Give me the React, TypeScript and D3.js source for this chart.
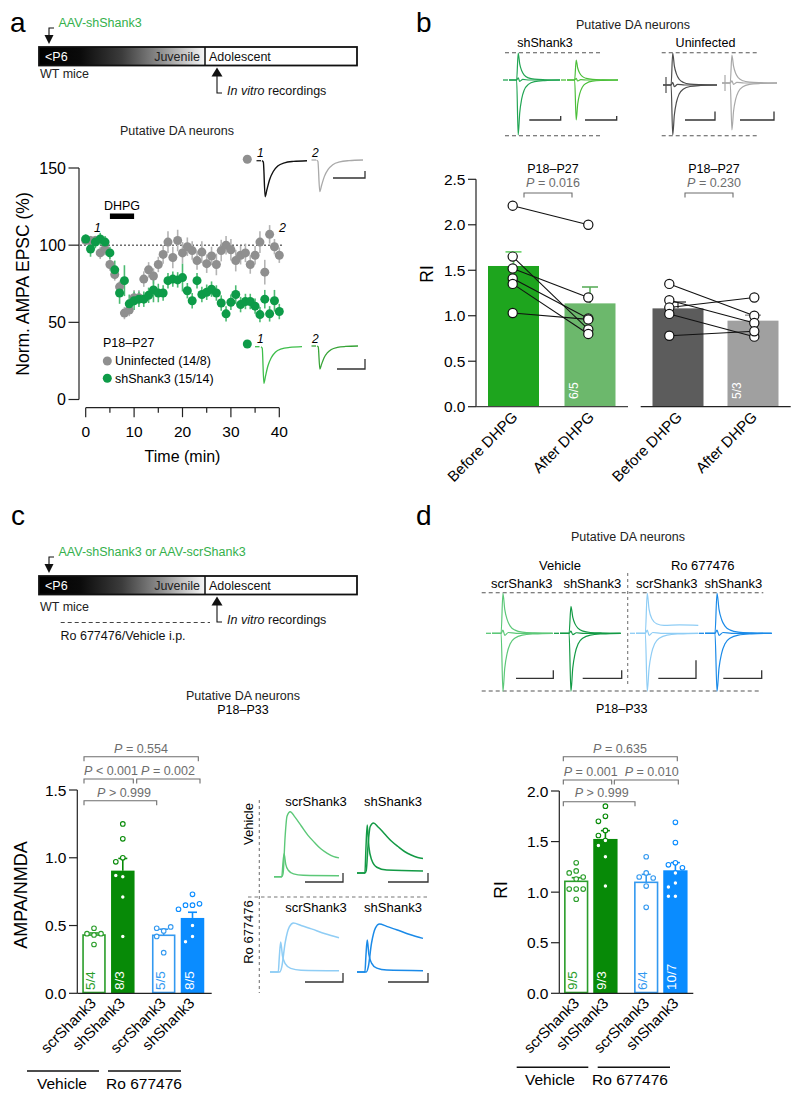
import React from "react";
import * as d3 from "d3";

const FONT = "'Liberation Sans', Arial, Helvetica, sans-serif";
type Pt = [number, number];

// ---------------- Panel a data ----------------
const timeMin = [0,1,2,3,4,5,6,7,8,9,10,11,12,13,14,15,16,17,18,19,20,21,22,23,24,25,26,27,28,29,30,31,32,33,34,35,36,37,38,39,40];
const uninfectedMean = [103,103,103,95,97.5,87.5,81,73,56,58,66,66,78,84,80,87.5,94,102,92,103,95,99,96.5,90,95.5,88,93,87.5,96.5,100,97,90,93.5,95,87.5,93.5,102,82.5,107,99,93.5];
const uninfectedSem = [3,3,3,4,4,4,4,4,4,4,5,5,5,5,5,5,6,7,7,7,7,6,6,6,7,6,6,7,7,6,7,7,6,6,6,6,7,8,6,5,5];
const shShank3Mean = [104,97.5,102,104,102,95,84,69,77,62,64,65,65,67.5,71,69,69,77,78,77.5,79,70.5,64,77,68,69.5,71.5,69,62.5,55.5,63,68,61.5,63.5,63.5,60.5,55,65,55.5,64,57];
const shShank3Sem = [3,5,4,4,4,4,6,7,10,6,6,5,5,5,8,6,5,5,5,5,9,5,5,5,5,5,5,5,5,5,5,6,5,5,5,5,5,6,5,7,5];
const yTicksA = [0, 50, 100, 150];
const xMajorA = [0, 10, 20, 30, 40];
const xMinorA = [5, 15, 25, 35];

// normalized trace shapes (time 0..1, amplitude)
const epscShape: Pt[] = [[0,0],[0.03,-0.04],[0.07,-1],[0.11,-0.8],[0.17,-0.52],[0.25,-0.3],[0.35,-0.15],[0.5,-0.06],[0.7,-0.02],[1,0]];
const riShape: Pt[] = [[0,0],[0.15,0],[0.18,1],[0.21,0.6],[0.25,0.34],[0.3,0.18],[0.38,0.08],[0.5,0.03],[0.7,0.01],[1,0]];
const riPlateauShape: Pt[] = [[0,0],[0.15,0],[0.18,1],[0.21,0.6],[0.26,0.35],[0.33,0.24],[0.45,0.2],[0.7,0.21],[1,0.2]];
const riZeroShape: Pt[] = [[0,0],[0.15,0],[0.18,0.08],[0.21,-0.05],[0.27,0.02],[0.4,0],[1,0]];
const nmdaVehShape: Pt[] = [[0,0],[0.12,0],[0.14,0.05],[0.17,0.6],[0.2,0.93],[0.25,1],[0.32,0.92],[0.42,0.78],[0.52,0.64],[0.62,0.53],[0.72,0.43],[0.82,0.36],[0.92,0.31],[1,0.29]];
const nmdaRoShape: Pt[] = [[0,0],[0.14,0],[0.17,0.1],[0.22,0.6],[0.28,0.92],[0.34,1],[0.45,0.95],[0.6,0.88],[0.8,0.78],[1,0.7]];
const ampaShape: Pt[] = [[0,0],[0.12,0],[0.135,0.5],[0.155,1],[0.18,0.55],[0.22,0.28],[0.3,0.12],[0.45,0.06],[1,0.04]];

// ---------------- Panel b data ----------------
const dhpgConds = ["Before DHPG", "After DHPG"];
const riShMean = [1.547, 1.136];
const riShSem = [0.155, 0.18];
const riUnMean = [1.081, 0.946];
const riUnSem = [0.07, 0.06];
const riShBefore = [2.21, 1.65, 1.52, 1.41, 1.35, 1.03];
const riShAfter = [2.0, 0.85, 1.2, 0.97, 0.8, 0.96];
const riUnBefore = [1.35, 1.17, 1.09, 1.02, 0.78];
const riUnAfter = [1.0, 0.92, 1.2, 0.77, 0.83];
const riShN = "6/5";
const riUnN = "5/3";
const yTicksB = [0, 0.5, 1, 1.5, 2, 2.5];

// ---------------- Panel c data ----------------
const groups = ["Vehicle", "Ro 677476"];
const conds = ["scrShank3", "shShank3"];
const amMean = [0.43, 0.905, 0.428, 0.556];
const amSem = [0.015, 0.09, 0.045, 0.042];
const amScrVeh = [0.48, 0.44, 0.44, 0.43, 0.36];
const amShVeh = [1.25, 1.14, 1.0, 0.97, 0.86, 0.87, 0.71, 0.42];
const amScrRo = [0.46, 0.48, 0.49, 0.42, 0.3];
const amShRo = [0.73, 0.65, 0.65, 0.66, 0.62, 0.5, 0.42, 0.38];
const amN = ["5/4", "8/3", "5/5", "8/5"];
const yTicksC = [0, 0.5, 1, 1.5];

// ---------------- Panel d data ----------------
const riMean = [1.107, 1.526, 1.097, 1.216];
const riSem = [0.036, 0.082, 0.079, 0.076];
const riScrVeh = [1.29, 1.21, 1.19, 1.15, 1.13, 1.03, 1.03, 1.03, 0.93];
const riShVeh = [1.85, 1.75, 1.7, 1.61, 1.56, 1.51, 1.46, 1.35, 1.06];
const riScrRo = [1.35, 1.19, 1.15, 1.14, 1.06, 0.85];
const riShRo = [1.69, 1.49, 1.29, 1.27, 1.24, 1.19, 1.09, 1.05, 0.96, 0.96];
const riN = ["9/5", "9/3", "6/4", "10/7"];
const yTicksD = [0, 0.5, 1, 1.5, 2];

// ---------------- styles ----------------
const GREEN_TXT = "#34b04c";
const P_GRAY = "#6d6d6d";
const barStroke = ["#2a9d2a", "#078a07", "#3399f0", "#0a8cff"];
const barFill = ["#ffffff", "#078a07", "#ffffff", "#0a8cff"];
const nColor = ["#2a9d2a", "#ffffff", "#3399f0", "#ffffff"];

function Trace({ shape, x0, x1, base, amp, color, sw = 1.2 }: { shape: Pt[]; x0: number; x1: number; base: number; amp: number; color: string; sw?: number }) {
  const x = d3.scaleLinear().domain([0, 1]).range([x0, x1]);
  const y = d3.scaleLinear().domain([0, 1]).range([base, base - amp]);
  const line = d3.line<Pt>().x((d) => x(d[0])).y((d) => y(d[1])).curve(d3.curveMonotoneX);
  return <path d={line(shape) || ""} fill="none" stroke={color} strokeWidth={sw} strokeLinejoin="round" />;
}

function ScaleBar({ x0, x1, y, h, color = "#333" }: { x0: number; x1: number; y: number; h: number; color?: string }) {
  return <path d={`M${x0},${y}H${x1}V${y - h}`} fill="none" stroke={color} strokeWidth={1.3} />;
}

function RiSweeps({ x0, x1, base, up, down, color, vArt = false, plateau = false }: { x0: number; x1: number; base: number; up: number; down: number; color: string; vArt?: boolean; plateau?: boolean }) {
  return (
    <g>
      <Trace shape={plateau ? riPlateauShape : riShape} x0={x0} x1={x1} base={base} amp={up} color={color} />
      <Trace shape={riShape} x0={x0} x1={x1} base={base} amp={-down} color={color} />
      <Trace shape={riZeroShape} x0={x0} x1={x1} base={base} amp={up} color={color} />
      {vArt ? (
        <line x1={x0 + 3} x2={x0 + 3} y1={base - 8} y2={base + 8} stroke={color} strokeWidth={1.2} />
      ) : (
        <line x1={x0 - 6} x2={x0 - 1} y1={base} y2={base} stroke={color} strokeWidth={1.3} />
      )}
    </g>
  );
}

function PText({ x, y, op, val, anchor = "middle" }: { x: number; y: number; op: string; val: string; anchor?: string }) {
  return (
    <text x={x} y={y} fontSize={12.5} fill={P_GRAY} textAnchor={anchor as any}>
      <tspan fontStyle="italic">P</tspan>
      {` ${op} ${val}`}
    </text>
  );
}

function Bracket({ x0, x1, y, drop = 4.5 }: { x0: number; x1: number; y: number; drop?: number }) {
  return <path d={`M${x0},${y + drop}V${y}H${x1}V${y + drop}`} fill="none" stroke={P_GRAY} strokeWidth={1.1} />;
}

function Timeline({ top, label, wtY, ro }: { top: number; label: string; wtY: number; ro?: boolean }) {
  const x0 = 39, x1 = 357, xd = 205, h = 18.5;
  const bottom = top + h;
  const gid = `grad${Math.round(top)}`;
  return (
    <g fontSize={12.5}>
      <defs>
        <linearGradient id={gid} x1="0" x2="1" y1="0" y2="0">
          <stop offset="0" stopColor="#000" />
          <stop offset="0.25" stopColor="#0b0b0b" />
          <stop offset="0.5" stopColor="#3c3c3c" />
          <stop offset="0.75" stopColor="#959595" />
          <stop offset="1" stopColor="#f6f6f6" />
        </linearGradient>
      </defs>
      <text x={58.5} y={top - 20} fill={GREEN_TXT}>{label}</text>
      <path d={`M54,${top - 19}H49V${top - 12}`} fill="none" stroke="#111" strokeWidth={1.1} />
      <path d={`M44.5,${top - 12}H53.5L49,${top - 3}Z`} fill="#111" />
      <rect x={x0} y={top} width={xd - x0} height={h} fill={`url(#${gid})`} />
      <rect x={xd} y={top} width={x1 - xd} height={h} fill="#fff" />
      <rect x={x0} y={top} width={x1 - x0} height={h} fill="none" stroke="#111" strokeWidth={1.8} />
      <line x1={xd} x2={xd} y1={top} y2={bottom} stroke="#111" strokeWidth={1.5} />
      <text x={45} y={top + 14} fill="#fff">{"<P6"}</text>
      <text x={xd - 5} y={top + 14} textAnchor="end" fill="#222">Juvenile</text>
      <text x={xd + 4} y={top + 14} fill="#111">Adolescent</text>
      <text x={40} y={wtY} fill="#222">WT mice</text>
      <path d={`M${xd + 12},${bottom + 2}L${xd + 17.5},${bottom + 11}H${xd + 6.5}Z`} fill="#111" />
      <path d={`M${xd + 12},${bottom + 10}V${bottom + 27.5}H${xd + 17}`} fill="none" stroke="#111" strokeWidth={1.1} />
      <text x={xd + 22} y={bottom + 29} fill="#111">
        <tspan fontStyle="italic">In vitro</tspan> recordings
      </text>
      {ro && (
        <g>
          <line x1={60.7} x2={210} y1={bottom + 28} y2={bottom + 28} stroke="#444" strokeWidth={1.1} strokeDasharray="4,3" />
          <text x={60.5} y={bottom + 45} fill="#111">Ro 677476/Vehicle i.p.</text>
        </g>
      )}
    </g>
  );
}

function dodge(values: number[], y: (v: number) => number, r: number): number[] {
  const placed: { x: number; y: number }[] = [];
  const cands = [0, -1, 1, -2, 2, -3, 3];
  const step = 2 * r + 2.4;
  return values.map((v) => {
    const py = y(v);
    for (const c of cands) {
      const px = c * step;
      if (placed.every((p) => Math.hypot(p.x - px, p.y - py) >= 2 * r + 1.5)) {
        placed.push({ x: px, y: py });
        return px;
      }
    }
    placed.push({ x: 0, y: py });
    return 0;
  });
}

function PanelA() {
  const x = d3.scaleLinear().domain([0, 40]).range([85.7, 279.3]);
  const y = d3.scaleLinear().domain([0, 150]).range([399.5, 168]);
  const axY = 407.7;
  return (
    <g>
      <text x={10} y={32} fontSize={28}>a</text>
      <Timeline top={47} label="AAV-shShank3" wtY={78} />
      <text x={177} y={135} fontSize={12.5} textAnchor="middle" fill="#222">Putative DA neurons</text>
      {/* y axis */}
      <line x1={79} x2={79} y1={y(150)} y2={y(0)} stroke="#222" strokeWidth={1.2} />
      {yTicksA.map((t) => (
        <g key={t}>
          <line x1={68.5} x2={79} y1={y(t)} y2={y(t)} stroke="#222" strokeWidth={1.2} />
          <text x={66} y={y(t)} dy="0.36em" textAnchor="end" fontSize={16}>{t}</text>
        </g>
      ))}
      <text transform="translate(28.5,284) rotate(-90)" textAnchor="middle" fontSize={17.5}>Norm. AMPA EPSC (%)</text>
      {/* x axis */}
      <line x1={x(0)} x2={x(40)} y1={axY} y2={axY} stroke="#222" strokeWidth={1.2} />
      {xMajorA.map((t) => (
        <g key={t}>
          <line x1={x(t)} x2={x(t)} y1={axY} y2={axY + 9.5} stroke="#222" strokeWidth={1.2} />
          <text x={x(t)} y={437} textAnchor="middle" fontSize={15.5}>{t}</text>
        </g>
      ))}
      {xMinorA.map((t) => (
        <line key={t} x1={x(t)} x2={x(t)} y1={axY} y2={axY + 5} stroke="#222" strokeWidth={1.2} />
      ))}
      <text x={x(20)} y={462} textAnchor="middle" fontSize={16}>Time (min)</text>
      {/* baseline */}
      <line x1={80} x2={283} y1={y(100)} y2={y(100)} stroke="#222" strokeWidth={1} strokeDasharray="2,2" />
      {/* DHPG */}
      <rect x={x(5)} y={213.5} width={x(10) - x(5)} height={5.5} fill="#000" />
      <text x={(x(5) + x(10)) / 2} y={210} textAnchor="middle" fontSize={12.5}>DHPG</text>
      <text x={94} y={232} fontSize={12.5} fontStyle="italic">1</text>
      <text x={279} y={232} fontSize={12.5} fontStyle="italic">2</text>
      {/* error bars */}
      {timeMin.map((t, i) => (
        <line key={"ue" + t} x1={x(t)} x2={x(t)} y1={y(uninfectedMean[i] - uninfectedSem[i])} y2={y(uninfectedMean[i] + uninfectedSem[i])} stroke="#b4b4b4" strokeWidth={1.6} />
      ))}
      {timeMin.map((t, i) => (
        <line key={"se" + t} x1={x(t)} x2={x(t)} y1={y(shShank3Mean[i] - shShank3Sem[i])} y2={y(shShank3Mean[i] + shShank3Sem[i])} stroke="#4cbb72" strokeWidth={1.6} />
      ))}
      {timeMin.map((t, i) => (
        <circle key={"u" + t} cx={x(t)} cy={y(uninfectedMean[i])} r={4.5} fill="#8f8f8f" />
      ))}
      {timeMin.map((t, i) => (
        <circle key={"s" + t} cx={x(t)} cy={y(shShank3Mean[i])} r={4.5} fill="#0d9b48" />
      ))}
      {/* legend */}
      <text x={103} y={347} fontSize={12.5}>P18–P27</text>
      <circle cx={107.3} cy={361} r={4.5} fill="#8f8f8f" />
      <text x={115} y={365} fontSize={12.5}>Uninfected (14/8)</text>
      <circle cx={107.3} cy={378.3} r={4.5} fill="#0d9b48" />
      <text x={115} y={382.5} fontSize={12.5}>shShank3 (15/14)</text>
      {/* insets */}
      <circle cx={247.3} cy={159.3} r={4.5} fill="#8f8f8f" />
      <text x={257} y={157} fontSize={12} fontStyle="italic">1</text>
      <text x={312} y={157} fontSize={12} fontStyle="italic">2</text>
      <line x1={256.5} x2={261} y1={160.7} y2={160.7} stroke="#222" strokeWidth={1.3} />
      <Trace shape={epscShape} x0={262} x1={307} base={160.7} amp={36} color="#111" sw={1.4} />
      <line x1={311.5} x2={316} y1={160} y2={160} stroke="#aaa" strokeWidth={1.3} />
      <Trace shape={epscShape} x0={316.5} x1={363} base={160} amp={31.5} color="#a9a9a9" sw={1.3} />
      <ScaleBar x0={333} x1={365} y={178} h={7} />
      <circle cx={247.3} cy={344} r={4.5} fill="#0d9b48" />
      <text x={257} y={342.5} fontSize={12} fontStyle="italic">1</text>
      <text x={312} y={342.5} fontSize={12} fontStyle="italic">2</text>
      <line x1={255} x2={259.5} y1={346.7} y2={346.7} stroke="#3dbe4a" strokeWidth={1.3} />
      <Trace shape={epscShape} x0={261} x1={302} base={346.7} amp={36.6} color="#3dbe4a" sw={1.3} />
      <line x1={311.5} x2={316} y1={346} y2={346} stroke="#36a336" strokeWidth={1.3} />
      <Trace shape={epscShape} x0={317} x1={358} base={346} amp={23} color="#36a336" sw={1.3} />
      <ScaleBar x0={337} x1={365} y={369} h={10} />
    </g>
  );
}

function PanelB() {
  const y = d3.scaleLinear().domain([0, 2.5]).range([406.7, 179.3]);
  const xL = d3.scalePoint<string>().domain(dhpgConds).range([513.5, 590]);
  const xR = d3.scalePoint<string>().domain(dhpgConds).range([678, 753]);
  const bw = 51;
  const fmt = d3.format(".1f");
  const shColors = ["#1ea51e", "#6cb86c"];
  const unColors = ["#5c5c5c", "#a0a0a0"];
  const shErr = ["#66d266", "#5cae5c"];
  const unErr = ["#5c5c5c", "#a0a0a0"];
  const groupsB = [
    { xs: xL, mean: riShMean, sem: riShSem, colors: shColors, err: shErr, before: riShBefore, after: riShAfter, n: riShN, bx: 512.7, ax: 588.3 },
    { xs: xR, mean: riUnMean, sem: riUnSem, colors: unColors, err: unErr, before: riUnBefore, after: riUnAfter, n: riUnN, bx: 669.3, ax: 754.3 },
  ];
  return (
    <g>
      <text x={416} y={32} fontSize={28}>b</text>
      <text x={633} y={29} fontSize={12.5} textAnchor="middle" fill="#222">Putative DA neurons</text>
      <text x={545} y={47} fontSize={12.5} textAnchor="middle">shShank3</text>
      <text x={705.5} y={47} fontSize={12.5} textAnchor="middle">Uninfected</text>
      {[52.7, 135.7].map((yy) => (
        <g key={yy}>
          <line x1={505} x2={600} y1={yy} y2={yy} stroke="#555" strokeWidth={1.1} strokeDasharray="4,3" />
          <line x1={661.7} x2={758} y1={yy} y2={yy} stroke="#555" strokeWidth={1.1} strokeDasharray="4,3" />
        </g>
      ))}
      <RiSweeps x0={509} x1={560} base={80} up={27} down={55} color="#22a554" />
      <RiSweeps x0={567} x1={618} base={80} up={20} down={40} color="#4cbf3a" />
      <RiSweeps x0={663} x1={717} base={85} up={32} down={50} color="#4d4d4d" vArt />
      <RiSweeps x0={722} x1={777} base={83} up={28} down={47} color="#a8a8a8" vArt />
      <ScaleBar x0={529.3} x1={560.7} y={120} h={4} />
      <ScaleBar x0={585} x1={616.7} y={120} h={4} />
      <ScaleBar x0={685} x1={715} y={120} h={8.5} />
      <ScaleBar x0={740} x1={774} y={120} h={8.5} />
      {/* axes */}
      <line x1={476} x2={476} y1={y(2.5)} y2={y(0)} stroke="#222" strokeWidth={1.2} />
      {yTicksB.map((t) => (
        <g key={t}>
          <line x1={468} x2={476} y1={y(t)} y2={y(t)} stroke="#222" strokeWidth={1.2} />
          <text x={465.5} y={y(t)} dy="0.36em" textAnchor="end" fontSize={15.5}>{fmt(t)}</text>
        </g>
      ))}
      <text transform="translate(433,274) rotate(-90)" textAnchor="middle" fontSize={17.5}>RI</text>
      {groupsB.map((g, gi) => (
        <g key={gi}>
          {dhpgConds.map((c, i) => (
            <g key={c}>
              <line x1={g.xs(c)!} x2={g.xs(c)!} y1={y(g.mean[i])} y2={y(g.mean[i] + g.sem[i])} stroke={g.err[i]} strokeWidth={1.6} />
              <line x1={g.xs(c)! - 8} x2={g.xs(c)! + 8} y1={y(g.mean[i] + g.sem[i])} y2={y(g.mean[i] + g.sem[i])} stroke={g.err[i]} strokeWidth={1.6} />
              <rect x={g.xs(c)! - bw / 2} y={y(g.mean[i])} width={bw} height={y(0) - y(g.mean[i])} fill={g.colors[i]} />
            </g>
          ))}
          <text transform={`translate(${g.xs("After DHPG")! - bw / 2 + 13},399) rotate(-90)`} fontSize={12} fill="#fff">{g.n}</text>
          {g.before.map((v, i) => (
            <line key={"l" + i} x1={g.bx} x2={g.ax} y1={y(v)} y2={y(g.after[i])} stroke="#111" strokeWidth={1.1} />
          ))}
          {g.before.map((v, i) => (
            <circle key={"b" + i} cx={g.bx} cy={y(v)} r={4.6} fill="#fff" stroke="#111" strokeWidth={1.2} />
          ))}
          {g.after.map((v, i) => (
            <circle key={"a" + i} cx={g.ax} cy={y(v)} r={4.6} fill="#fff" stroke="#111" strokeWidth={1.2} />
          ))}
          {dhpgConds.map((c) => (
            <text key={c} transform={`translate(${g.xs(c)! + 5},418) rotate(-45)`} textAnchor="end" fontSize={15}>{c}</text>
          ))}
        </g>
      ))}
      <line x1={476} x2={628} y1={y(0)} y2={y(0)} stroke="#444" strokeWidth={1.3} />
      <line x1={640.7} x2={790.7} y1={y(0)} y2={y(0)} stroke="#222" strokeWidth={1.3} />
      {[553, 714].map((cx, i) => (
        <g key={cx}>
          <text x={cx} y={172.7} fontSize={12.5} textAnchor="middle">P18–P27</text>
          <PText x={cx} y={187} op="=" val={i === 0 ? "0.016" : "0.230"} />
          <Bracket x0={cx - 29} x1={cx + 19} y={193} />
        </g>
      ))}
    </g>
  );
}

function BarDots({ x, y, bw, means, sems, dots, ns, rot, nBase }: { x: (i: number) => number; y: d3.ScaleLinear<number, number>; bw: number; means: number[]; sems: number[]; dots: number[][]; ns: string[]; rot: number; nBase: number }) {
  return (
    <g>
      {means.map((m, i) => {
        const cx = x(i);
        const hollow = barFill[i] === "#ffffff";
        return (
          <g key={i}>
            <line x1={cx} x2={cx} y1={y(m)} y2={y(m + sems[i])} stroke={barStroke[i]} strokeWidth={1.6} />
            <line x1={cx - 4.5} x2={cx + 4.5} y1={y(m + sems[i])} y2={y(m + sems[i])} stroke={barStroke[i]} strokeWidth={1.6} />
            <rect x={cx - bw / 2 + (hollow ? 0.8 : 0)} y={y(m)} width={bw - (hollow ? 1.6 : 0)} height={y(0) - y(m) - (hollow ? 0.8 : 0)} fill={barFill[i]} stroke={hollow ? barStroke[i] : "none"} strokeWidth={1.6} />
          </g>
        );
      })}
      {dots.map((vals, i) => {
        const offs = dodge(vals, y, 2.3);
        return vals.map((v, j) => (
          <circle key={i + "-" + j} cx={x(i) + offs[j]} cy={y(v)} r={2.3} fill="#fff" stroke={barStroke[i]} strokeWidth={1.1} />
        ));
      })}
      {ns.map((n, i) => (
        <text key={n + i} transform={`translate(${x(i) - bw / 2 + 13},${nBase}) rotate(-90)`} fontSize={13.5} fill={nColor[i]}>{n}</text>
      ))}
      {means.map((m, i) => (
        <text key={"xl" + i} transform={`translate(${x(i) + rot},1004) rotate(-45)`} textAnchor="end" fontSize={15}>{conds[i % 2]}</text>
      ))}
    </g>
  );
}

function PanelC() {
  const y = d3.scaleLinear().domain([0, 1.5]).range([993.3, 790]);
  const xg = d3.scalePoint<string>().domain(groups).range([108.4, 178.1]);
  const xs = d3.scalePoint<string>().domain(conds).range([-14.4, 14.4]);
  const bx = (i: number) => xg(groups[Math.floor(i / 2)])! + xs(conds[i % 2])!;
  const fmt = d3.format(".1f");
  return (
    <g>
      <text x={11} y={525} fontSize={28}>c</text>
      <Timeline top={576} label="AAV-shShank3 or AAV-scrShank3" wtY={611} ro />
      <text x={243} y={700} fontSize={12.5} textAnchor="middle" fill="#222">Putative DA neurons</text>
      <text x={243} y={714} fontSize={12.5} textAnchor="middle">P18–P33</text>
      <line x1={77.3} x2={77.3} y1={y(1.5)} y2={y(0)} stroke="#222" strokeWidth={1.2} />
      {yTicksC.map((t) => (
        <g key={t}>
          <line x1={69} x2={77.3} y1={y(t)} y2={y(t)} stroke="#222" strokeWidth={1.2} />
          <text x={66.5} y={y(t)} dy="0.36em" textAnchor="end" fontSize={15.5}>{fmt(t)}</text>
        </g>
      ))}
      <text transform="translate(26.5,895) rotate(-90)" textAnchor="middle" fontSize={18}>AMPA/NMDA</text>
      <BarDots x={bx} y={y} bw={23.5} means={amMean} sems={amSem} dots={[amScrVeh, amShVeh, amScrRo, amShRo]} ns={amN} rot={3} nBase={990} />
      <line x1={77.3} x2={211.7} y1={y(0)} y2={y(0)} stroke="#222" strokeWidth={1.3} />
      <Bracket x0={84} x1={156.7} y={800.7} />
      <PText x={124} y={797} op=">" val="0.999" />
      <Bracket x0={84} x1={133.3} y={779} />
      <PText x={111} y={775} op="<" val="0.001" />
      <Bracket x0={136.7} x1={200} y={779} />
      <PText x={168} y={775} op="=" val="0.002" />
      <Bracket x0={84} x1={198.3} y={756.7} />
      <PText x={141} y={752.7} op="=" val="0.554" />
      <line x1={27} x2={99} y1={1071} y2={1071} stroke="#111" strokeWidth={1.6} />
      <text x={62} y={1089} fontSize={15.5} textAnchor="middle">Vehicle</text>
      <line x1={108} x2={181} y1={1071} y2={1071} stroke="#111" strokeWidth={1.6} />
      <text x={144} y={1089} fontSize={15.5} textAnchor="middle">Ro 677476</text>
      {/* AMPA/NMDA traces */}
      <line x1={259.3} x2={259.3} y1={800} y2={993} stroke="#777" strokeWidth={1.1} strokeDasharray="3,3" />
      <line x1={248} x2={428} y1={897} y2={897} stroke="#777" strokeWidth={1.1} strokeDasharray="3.5,3" />
      <text transform="translate(253,824) rotate(-90)" textAnchor="middle" fontSize={13}>Vehicle</text>
      <text transform="translate(253,932) rotate(-90)" textAnchor="middle" fontSize={13}>Ro 677476</text>
      <text x={316} y={806} textAnchor="middle" fontSize={13}>scrShank3</text>
      <text x={393} y={806} textAnchor="middle" fontSize={13}>shShank3</text>
      <text x={316} y={912} textAnchor="middle" fontSize={13}>scrShank3</text>
      <text x={393} y={912} textAnchor="middle" fontSize={13}>shShank3</text>
      <Trace shape={nmdaVehShape} x0={274} x1={339} base={876.7} amp={65} color="#5cc878" sw={1.4} />
      <Trace shape={ampaShape} x0={274} x1={339} base={876.7} amp={23} color="#5cc878" sw={1.4} />
      <Trace shape={nmdaVehShape} x0={357} x1={423} base={873} amp={50} color="#139a45" sw={1.5} />
      <Trace shape={ampaShape} x0={357} x1={423} base={873} amp={48} color="#139a45" sw={1.5} />
      <Trace shape={nmdaRoShape} x0={270} x1={339} base={972} amp={49} color="#8fcdf5" sw={1.5} />
      <Trace shape={ampaShape} x0={270} x1={339} base={972} amp={30} color="#8fcdf5" sw={1.5} />
      <Trace shape={nmdaRoShape} x0={357} x1={423} base={972} amp={48} color="#1a8ae8" sw={1.5} />
      <Trace shape={ampaShape} x0={357} x1={423} base={972} amp={32} color="#1a8ae8" sw={1.5} />
      <ScaleBar x0={305} x1={343} y={882} h={9} />
      <ScaleBar x0={388} x1={428} y={882} h={9} />
      <ScaleBar x0={305} x1={343} y={982} h={9} />
      <ScaleBar x0={388} x1={428} y={982} h={9} />
    </g>
  );
}

function PanelD() {
  const y = d3.scaleLinear().domain([0, 2]).range([993.3, 791]);
  const xg = d3.scalePoint<string>().domain(groups).range([590.8, 660.8]);
  const xs = d3.scalePoint<string>().domain(conds).range([-14.6, 14.6]);
  const bx = (i: number) => xg(groups[Math.floor(i / 2)])! + xs(conds[i % 2])!;
  const fmt = d3.format(".1f");
  return (
    <g>
      <text x={416} y={525} fontSize={28}>d</text>
      <text x={628} y={541} fontSize={12.5} textAnchor="middle" fill="#222">Putative DA neurons</text>
      <text x={560} y={569.5} fontSize={13} textAnchor="middle">Vehicle</text>
      <text x={702.7} y={569.5} fontSize={13} textAnchor="middle">Ro 677476</text>
      <text x={521.7} y={588} fontSize={13} textAnchor="middle">scrShank3</text>
      <text x={592.3} y={588} fontSize={13} textAnchor="middle">shShank3</text>
      <text x={666.7} y={588} fontSize={13} textAnchor="middle">scrShank3</text>
      <text x={733.3} y={588} fontSize={13} textAnchor="middle">shShank3</text>
      <line x1={481.7} x2={763.3} y1={592.7} y2={592.7} stroke="#555" strokeWidth={1.1} strokeDasharray="4,3" />
      <line x1={481.7} x2={761} y1={691} y2={691} stroke="#555" strokeWidth={1.1} strokeDasharray="4,3" />
      <line x1={627.7} x2={627.7} y1={573} y2={684} stroke="#777" strokeWidth={1.1} strokeDasharray="3,3" />
      <RiSweeps x0={492} x1={552.7} base={633.3} up={40} down={58} color="#5cc878" />
      <RiSweeps x0={560} x1={620.7} base={633.3} up={27} down={58} color="#139a45" />
      <RiSweeps x0={636} x1={698.3} base={633.3} up={40} down={58} color="#8fcdf5" plateau />
      <RiSweeps x0={705} x1={771.7} base={633.3} up={40} down={58} color="#1a8ae8" />
      <ScaleBar x0={516} x1={553.3} y={678.3} h={8} />
      <ScaleBar x0={582.7} x1={621.7} y={678.3} h={8} />
      <ScaleBar x0={658.3} x1={696} y={678.3} h={18} />
      <ScaleBar x0={723.3} x1={761.7} y={678.3} h={8} />
      <text x={621.7} y={713} fontSize={12.5} textAnchor="middle">P18–P33</text>
      <line x1={559.3} x2={559.3} y1={y(2)} y2={y(0)} stroke="#222" strokeWidth={1.2} />
      {yTicksD.map((t) => (
        <g key={t}>
          <line x1={551} x2={559.3} y1={y(t)} y2={y(t)} stroke="#222" strokeWidth={1.2} />
          <text x={548.5} y={y(t)} dy="0.36em" textAnchor="end" fontSize={15.5}>{fmt(t)}</text>
        </g>
      ))}
      <text transform="translate(507,890) rotate(-90)" textAnchor="middle" fontSize={17.5}>RI</text>
      <BarDots x={bx} y={y} bw={24.3} means={riMean} sems={riSem} dots={[riScrVeh, riShVeh, riScrRo, riShRo]} ns={riN} rot={4} nBase={990} />
      <line x1={559.3} x2={693.3} y1={y(0)} y2={y(0)} stroke="#222" strokeWidth={1.3} />
      <Bracket x0={563.3} x1={635} y={801.7} />
      <PText x={601.7} y={797.3} op=">" val="0.999" />
      <Bracket x0={563.3} x1={611.7} y={780} />
      <PText x={590.7} y={775.7} op="=" val="0.001" />
      <Bracket x0={614.3} x1={678.3} y={780} />
      <PText x={651.7} y={775.7} op="=" val="0.010" />
      <Bracket x0={563.3} x1={677.3} y={756.7} />
      <PText x={620} y={752.7} op="=" val="0.635" />
      <line x1={516.7} x2={588.3} y1={1067.3} y2={1067.3} stroke="#111" strokeWidth={1.6} />
      <text x={550} y={1085} fontSize={15.5} textAnchor="middle">Vehicle</text>
      <line x1={597.7} x2={670} y1={1067.3} y2={1067.3} stroke="#111" strokeWidth={1.6} />
      <text x={630} y={1085} fontSize={15.5} textAnchor="middle">Ro 677476</text>
    </g>
  );
}

export default function App() {
  return (
    <svg width={800} height={1099} viewBox="0 0 800 1099" style={{ position: "absolute", left: 0, top: 0, background: "#fff" }} fontFamily={FONT}>
      <rect width={800} height={1099} fill="#fff" />
      <PanelA />
      <PanelB />
      <PanelC />
      <PanelD />
    </svg>
  );
}
